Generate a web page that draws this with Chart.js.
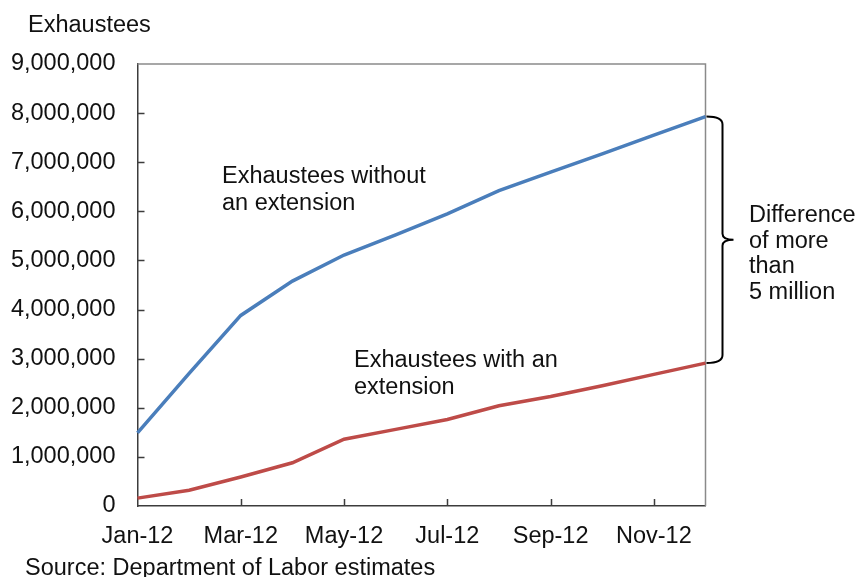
<!DOCTYPE html>
<html>
<head>
<meta charset="utf-8">
<script src="https://cdn.jsdelivr.net/npm/chart.js@4.4.1/dist/chart.umd.min.js"></script>
<style>
  html, body { margin: 0; padding: 0; background: #fff; }
  canvas { display: block; }
</style>
</head>
<body>
<canvas id="c" width="863" height="577" style="width:863px;height:577px"></canvas>
<script>
// Monthly categories
const months = ['Jan-12', 'Feb-12', 'Mar-12', 'Apr-12', 'May-12', 'Jun-12',
                'Jul-12', 'Aug-12', 'Sep-12', 'Oct-12', 'Nov-12', 'Dec-12'];

// Cumulative exhaustees, by scenario
const withoutExtension = [1490000, 2700000, 3880000, 4580000, 5110000, 5520000,
                          5950000, 6420000, 6800000, 7170000, 7550000, 7930000];
const withExtension    = [160000, 320000, 590000, 880000, 1360000, 1560000,
                          1760000, 2040000, 2230000, 2450000, 2680000, 2910000];

// Value axis
const yMin = 0, yMax = 9000000, yStep = 1000000;

const FONT = '"Liberation Sans", Arial, sans-serif';
const FSIZE = 23.5;
const TEXT = '#111111';
const AXIS = '#3c3c3c';
const FRAME = '#8a8a8a';

const decorations = {
  id: 'decorations',
  beforeDatasetsDraw(chart) {
    const { ctx, chartArea: a } = chart;
    ctx.save();
    ctx.strokeStyle = FRAME;
    ctx.lineWidth = 1.5;
    ctx.beginPath();
    ctx.moveTo(a.left, a.top);
    ctx.lineTo(a.right, a.top);
    ctx.lineTo(a.right, a.bottom);
    ctx.stroke();
    ctx.restore();
  },
  afterDraw(chart) {
    const { ctx, chartArea: a, scales } = chart;
    const x = scales.x, y = scales.y;
    ctx.save();

    // inward tick marks
    ctx.strokeStyle = AXIS;
    ctx.lineWidth = 1.5;
    ctx.beginPath();
    for (let v = yMin + yStep; v < yMax; v += yStep) {
      const py = Math.round(y.getPixelForValue(v)) + 0.5;
      ctx.moveTo(a.left, py);
      ctx.lineTo(a.left + 7, py);
    }
    for (let i = 2; i < months.length; i += 2) {
      const px = Math.round(x.getPixelForValue(i)) + 0.5;
      ctx.moveTo(px, a.bottom);
      ctx.lineTo(px, a.bottom - 7);
    }
    ctx.stroke();

    // brace spanning the December gap
    const last = months.length - 1;
    const xe = x.getPixelForValue(last);
    const yTop = y.getPixelForValue(withoutExtension[last]);
    const yBot = y.getPixelForValue(withExtension[last]);
    const yMid = (yTop + yBot) / 2;
    const bx = xe + 17;
    ctx.strokeStyle = '#000';
    ctx.lineWidth = 2;
    ctx.beginPath();
    ctx.moveTo(xe + 1, yTop);
    ctx.quadraticCurveTo(bx, yTop, bx, yTop + 8);
    ctx.lineTo(bx, yMid - 6);
    ctx.quadraticCurveTo(bx, yMid, bx + 11, yMid);
    ctx.quadraticCurveTo(bx, yMid, bx, yMid + 6);
    ctx.lineTo(bx, yBot - 8);
    ctx.quadraticCurveTo(bx, yBot, xe + 1, yBot);
    ctx.stroke();

    // text
    ctx.fillStyle = TEXT;
    ctx.font = FSIZE + 'px ' + FONT;
    ctx.textAlign = 'left';
    ctx.textBaseline = 'alphabetic';
    ctx.fillText('Exhaustees', 28, 32);
    ctx.fillText('Exhaustees without', 222, 183);
    ctx.fillText('an extension', 222, 209.5);
    ctx.fillText('Exhaustees with an', 354, 367);
    ctx.fillText('extension', 354, 393.5);
    const diff = ['Difference', 'of more', 'than', '5 million'];
    diff.forEach((t, i) => ctx.fillText(t, 749, 222 + i * 25.5));
    ctx.fillText('Source: Department of Labor estimates', 25, 575);
    ctx.restore();
  }
};

new Chart(document.getElementById('c'), {
  type: 'line',
  data: {
    labels: months,
    datasets: [
      {
        label: 'Exhaustees without an extension',
        data: withoutExtension,
        borderColor: '#4a7ebb',
        borderWidth: 3.5,
        pointRadius: 0,
        tension: 0,
        fill: false
      },
      {
        label: 'Exhaustees with an extension',
        data: withExtension,
        borderColor: '#be4b48',
        borderWidth: 3.5,
        pointRadius: 0,
        tension: 0,
        fill: false
      }
    ]
  },
  options: {
    responsive: false,
    devicePixelRatio: 1,
    animation: false,
    layout: { padding: { top: 64, right: 157.5, left: 0, bottom: 0 } },
    plugins: {
      legend: { display: false },
      tooltip: { enabled: false },
      title: { display: false }
    },
    scales: {
      x: {
        type: 'category',
        offset: false,
        grid: { display: false, drawTicks: false },
        border: { display: true, color: AXIS, width: 1.5 },
        ticks: {
          autoSkip: false,
          maxRotation: 0,
          minRotation: 0,
          padding: 16,
          color: TEXT,
          font: { family: FONT, size: FSIZE },
          callback: (v, i) => (i % 2 === 0 ? months[i] : '')
        },
        afterFit: s => { s.height = 71; }
      },
      y: {
        min: yMin,
        max: yMax,
        grid: { display: false, drawTicks: false },
        border: { display: true, color: AXIS, width: 1.5 },
        ticks: {
          stepSize: yStep,
          padding: 22,
          color: TEXT,
          font: { family: FONT, size: FSIZE },
          callback: v => v.toLocaleString('en-US')
        },
        afterFit: s => { s.width = 137.5; }
      }
    }
  },
  plugins: [decorations]
});
</script>
</body>
</html>
